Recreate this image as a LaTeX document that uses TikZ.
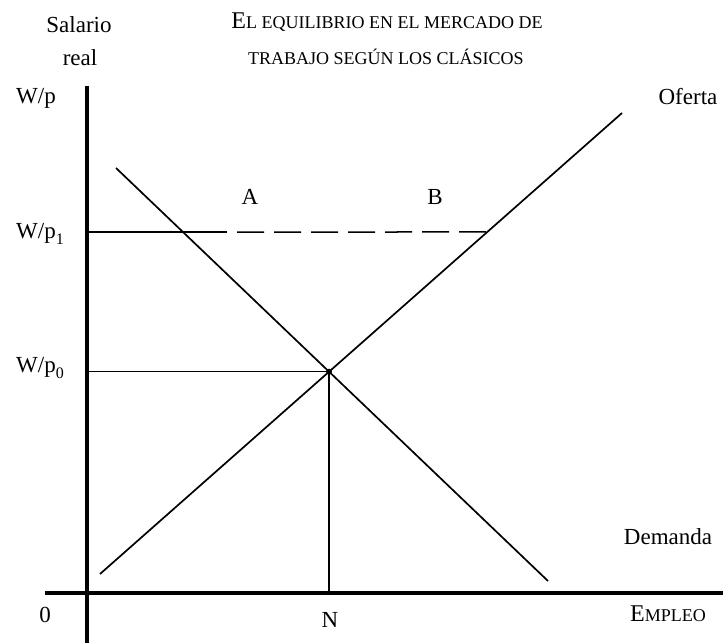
\documentclass[tikz,border=0pt]{standalone}
\usepackage{fontspec}
\setmainfont{Liberation Serif}
\newcommand\myBigCap[1]{{\fontsize{24}{28}\selectfont #1}}
\newcommand\mySmallCap[1]{{\fontsize{18}{20}\selectfont #1}}
\newcommand\mySub[1]{\raisebox{-6pt}{\fontsize{16}{16}\selectfont #1}}
\begin{document}
\begin{tikzpicture}[x=1pt,y=-1pt,
  lbl/.style={font=\fontsize{23}{27}\selectfont, inner sep=0pt},
  ttl/.style={inner sep=0pt},
  ax/.style={line width=4pt},
  crv/.style={line width=1.7pt},
  guide/.style={line width=1.5pt}]
\useasboundingbox (0,0) rectangle (723,643);
% axes
\coordinate (Vtop) at (87,86);
\coordinate (Vbot) at (87,643);
\coordinate (Hl) at (45,593);
\coordinate (Hr) at (723,593);
\draw[ax] (Vtop) -- (Vbot);
\draw[ax] (Hl) -- (Hr);
% curves
\coordinate (D1) at (116,168);
\coordinate (D2) at (548,581);
\coordinate (S1) at (100,574);
\coordinate (S2) at (622,113);
\draw[crv] (D1) -- (D2);
\draw[crv] (S1) -- (S2);
\coordinate (E) at (intersection of D1--D2 and S1--S2);
\fill (E) circle (3);
% W/p1 line
\coordinate (P1L) at (87,232);
\coordinate (P1M) at (227,232);
\coordinate (P1R) at (intersection of S1--S2 and P1L--P1M);
\draw[guide] (P1L) -- (P1M);
\draw[guide, dash pattern=on 27pt off 10pt, dash phase=27pt] (P1M) -- (P1R);
% W/p0 line
\coordinate (P0L) at (Vtop |- E);
\draw[guide] (P0L) -- (E);
\coordinate (NB) at (E |- Hl);
\draw[guide] (E) -- (NB);
% labels
\node[lbl] (sal) at (79,25) {Salario};
\node[lbl] (real) at (80,58) {real};
\node[ttl] (t1) at (387,22) {\myBigCap{E}\mySmallCap{L EQUILIBRIO EN EL MERCADO DE}};
\node[ttl] (t2) at (386,57) {\mySmallCap{TRABAJO SEGÚN LOS CLÁSICOS}};
\node[lbl] (wp) at (36,98) {W/p};
\node[lbl] (wp1) at (40,234) {W/p\mySub{1}};
\node[lbl] (wp0) at (40,368) {W/p\mySub{0}};
\node[lbl] (of) at (688,97) {Oferta};
\node[lbl] (A) at (250,197) {A};
\node[lbl] (B) at (435,197) {B};
\node[lbl] (dem) at (668,537) {Demanda};
\node[lbl] (zero) at (45,615) {0};
\node[lbl] (N) at (330,620) {N};
\node[ttl] (emp) at (668,614) {\myBigCap{E}\mySmallCap{MPLEO}};
\end{tikzpicture}
\end{document}
